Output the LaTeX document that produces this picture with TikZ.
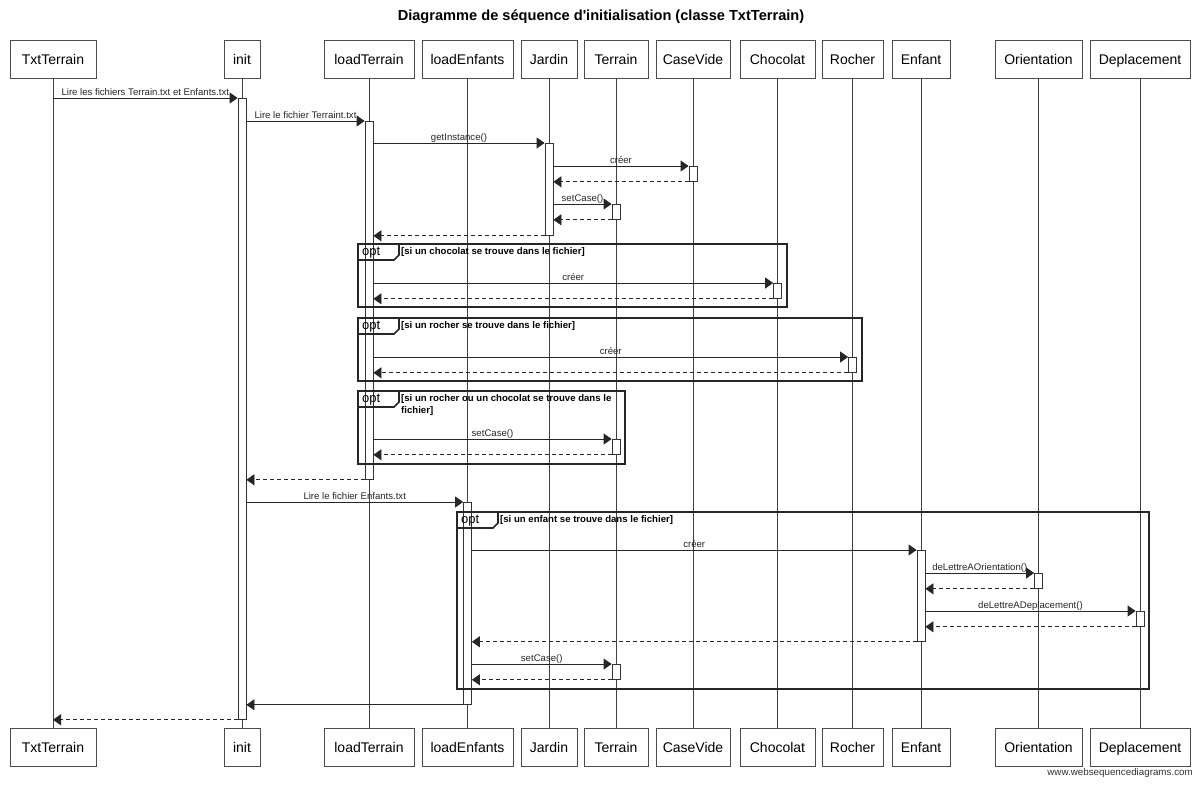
\documentclass[tikz,border=0pt]{standalone}
\usepackage{fontspec}
\setmainfont{Liberation Sans}[Ligatures=TeXOff]
\usetikzlibrary{arrows.meta}
\newcommand\optfr[6]{%
  \draw[frame] (#2,#3) rectangle (#4,#5);
  \draw[frame] (#2,#3+16) -- (#2+36,#3+16) -- (#2+41,#3+11) -- (#2+41,#3);
  \node[optlbl] (#1opt) at (#2+4,#3+8.5) {opt};
  \node[cond] (#1cond) at (#2+43,#3+3.5) {#6};
}
\begin{document}
\begin{tikzpicture}[x=1pt,y=-1pt,
  part/.style={draw=black!70, line width=0.8pt, minimum height=38pt, inner sep=0pt,
    text height=13pt, text depth=3pt, font=\fontsize{14}{16}\selectfont},
  life/.style={draw=black!75, line width=0.8pt},
  act/.style={draw=black!80, fill=white, line width=0.8pt, minimum width=8pt,
    inner sep=0pt, anchor=north},
  msg/.style={draw=black!85, line width=0.8pt, -{Triangle[length=8pt,width=11pt]}},
  ret/.style={msg, dash pattern=on 4pt off 3pt},
  lbl/.style={font=\fontsize{9.6}{10}\selectfont, anchor=base, yshift=3pt, inner sep=0pt,
    text=black!85},
  frame/.style={draw=black!85, line width=1.6pt},
  optlbl/.style={font=\fontsize{13}{14}\selectfont, anchor=west, inner sep=0pt},
  cond/.style={font=\bfseries\fontsize{9.6}{11.5}\selectfont, anchor=north west,
    inner sep=0pt, align=left}]
\useasboundingbox (0,0) rectangle (1200,785);
\fill[white] (0,0) rectangle (1200,785);

\node[font=\bfseries\fontsize{14.6}{16}\selectfont] (title) at (601,17)
  {Diagramme de séquence d'initialisation (classe TxtTerrain)};

% participants
\foreach \n/\x/\w/\t in {Txt/53/86/TxtTerrain, Init/242/36/init, LT/369/90/loadTerrain,
  LE/467.5/91/loadEnfants, J/549/56/Jardin, T/616/64/Terrain, CV/693/74/CaseVide,
  Ch/777.5/75/Chocolat, R/852.5/61/Rocher, E/921/58/Enfant, O/1038.5/87/Orientation,
  D/1140/100/Deplacement}{
  \node[part, minimum width=\w pt] (t\n) at (\x,59) {\t};
  \node[part, minimum width=\w pt] (b\n) at (\x,747) {\t};
  \draw[life] (t\n) -- (b\n);
}

% activations
\node[act, minimum height=621pt] (aInit) at (tInit |- 0,98) {};
\node[act, minimum height=358pt] (aLT) at (tLT |- 0,121) {};
\node[act, minimum height=92pt] (aJ) at (tJ |- 0,143) {};
\node[act, minimum height=15pt] (aCV) at (tCV |- 0,166) {};
\node[act, minimum height=15pt] (aT1) at (tT |- 0,204) {};
\node[act, minimum height=15pt] (aCh) at (tCh |- 0,283) {};
\node[act, minimum height=15pt] (aR) at (tR |- 0,357) {};
\node[act, minimum height=15pt] (aT2) at (tT |- 0,439) {};
\node[act, minimum height=202pt] (aLE) at (tLE |- 0,502) {};
\node[act, minimum height=91pt] (aE) at (tE |- 0,550) {};
\node[act, minimum height=15pt] (aO) at (tO |- 0,573) {};
\node[act, minimum height=15pt] (aD) at (tD |- 0,611) {};
\node[act, minimum height=15pt] (aT3) at (tT |- 0,664) {};

% messages
\draw[msg] (tTxt |- aInit.north) -- node[lbl] {Lire les fichiers Terrain.txt et Enfants.txt} (aInit.north west);
\draw[msg] (aInit.east |- aLT.north) -- node[lbl] {Lire le fichier Terraint.txt} (aLT.north west);
\draw[msg] (aLT.east |- aJ.north) -- node[lbl] {getInstance()} (aJ.north west);
\draw[msg] (aJ.east |- aCV.north) -- node[lbl] {créer} (aCV.north west);
\draw[ret] (aCV.south west) -- (aJ.east |- aCV.south);
\draw[msg] (aJ.east |- aT1.north) -- node[lbl] {setCase()} (aT1.north west);
\draw[ret] (aT1.south west) -- (aJ.east |- aT1.south);
\draw[ret] (aJ.south west) -- (aLT.east |- aJ.south);

\draw[msg] (aLT.east |- aCh.north) -- node[lbl] {créer} (aCh.north west);
\draw[ret] (aCh.south west) -- (aLT.east |- aCh.south);
\draw[msg] (aLT.east |- aR.north) -- node[lbl] {créer} (aR.north west);
\draw[ret] (aR.south west) -- (aLT.east |- aR.south);
\draw[msg] (aLT.east |- aT2.north) -- node[lbl] {setCase()} (aT2.north west);
\draw[ret] (aT2.south west) -- (aLT.east |- aT2.south);
\draw[ret] (aLT.south west) -- (aInit.east |- aLT.south);

\draw[msg] (aInit.east |- aLE.north) -- node[lbl] {Lire le fichier Enfants.txt} (aLE.north west);
\draw[msg] (aLE.east |- aE.north) -- node[lbl] {créer} (aE.north west);
\draw[msg] (aE.east |- aO.north) -- node[lbl] {deLettreAOrientation()} (aO.north west);
\draw[ret] (aO.south west) -- (aE.east |- aO.south);
\draw[msg] (aE.east |- aD.north) -- node[lbl] {deLettreADeplacement()} (aD.north west);
\draw[ret] (aD.south west) -- (aE.east |- aD.south);
\draw[ret] (aE.south west) -- (aLE.east |- aE.south);
\draw[msg] (aLE.east |- aT3.north) -- node[lbl] {setCase()} (aT3.north west);
\draw[ret] (aT3.south west) -- (aLE.east |- aT3.south);
\draw[msg] (aLE.south west) -- (aInit.east |- aLE.south);
\draw[ret] (aInit.south west) -- (tTxt |- aInit.south);

% opt frames
\optfr{f1}{358}{244}{787}{307}{[si un chocolat se trouve dans le fichier]}
\optfr{f2}{358}{318}{862}{381}{[si un rocher se trouve dans le fichier]}
\optfr{f3}{358}{391}{625}{464}{[si un rocher ou un chocolat se trouve dans le\\fichier]}
\optfr{f4}{457}{512}{1149}{689}{[si un enfant se trouve dans le fichier]}

\node[font=\fontsize{9.8}{10}\selectfont, anchor=base east, inner sep=0pt, text=black!80]
  (www) at (1193,775) {www.websequencediagrams.com};
\end{tikzpicture}
\end{document}
